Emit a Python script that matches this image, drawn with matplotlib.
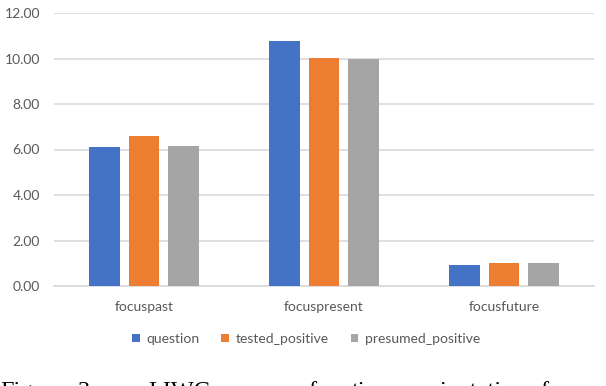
import matplotlib
matplotlib.use("Agg")
import matplotlib.pyplot as plt
import numpy as np
from matplotlib.patches import Patch

categories = ["focuspast", "focuspresent", "focusfuture"]
series_names = ["question", "tested_positive", "presumed_positive"]
question = [6.11, 10.77, 0.92]
tested_positive = [6.59, 10.02, 1.01]
presumed_positive = [6.15, 9.98, 1.01]
colors = ["#4472C4", "#ED7D31", "#A5A5A5"]
yticks = [0, 2, 4, 6, 8, 10, 12]

plt.rcParams['font.family'] = ['Lato', 'DejaVu Sans']
fig = plt.figure(figsize=(6.06, 3.86), dpi=100)
ax = fig.add_axes([54/606, 1-286/386, 540/606, 273/386])

x = np.arange(len(categories))
width = 0.172
offset = 0.222
for i, (vals, c) in enumerate(zip([question, tested_positive, presumed_positive], colors)):
    ax.bar(x + (i-1)*offset, vals, width=width, color=c, zorder=3)

ax.set_xlim(-0.5, 2.5)
ax.set_ylim(0, 12)
ax.set_yticks(yticks)
ax.set_yticklabels([f"{v:.2f}" for v in yticks])
ax.set_xticks(x)
ax.set_xticklabels(categories)
ax.tick_params(axis='both', length=0, labelsize=10, labelcolor="#595959")
ax.tick_params(axis='y', pad=10)
ax.tick_params(axis='x', pad=11)
ax.grid(axis='y', color="#D9D9D9", linewidth=1.2, zorder=0)
for s in ['left', 'right', 'top']:
    ax.spines[s].set_visible(False)
ax.spines['bottom'].set_color("#D9D9D9")
ax.spines['bottom'].set_linewidth(1.2)

handles = [Patch(facecolor=c, edgecolor='none') for c in colors]
fig.legend(handles, series_names, loc='center', bbox_to_anchor=(306/606, 1-339/386),
           ncol=3, frameon=False, fontsize=10, labelcolor="#595959",
           handlelength=0.55, handleheight=0.55, handletextpad=0.45, columnspacing=1.6)

caption_words = [("Figure", 0), ("3:", 78), ("LIWC", 148), ("scores", 226), ("for", 308),
                 ("time", 352), ("orientation", 420), ("focus", 540)]
for w, px in caption_words:
    fig.text(px/606, 1-381/386, w, family='Liberation Serif', fontsize=17.5,
             va='top', ha='left', color='black')

fig.savefig("out.png", dpi=100)
